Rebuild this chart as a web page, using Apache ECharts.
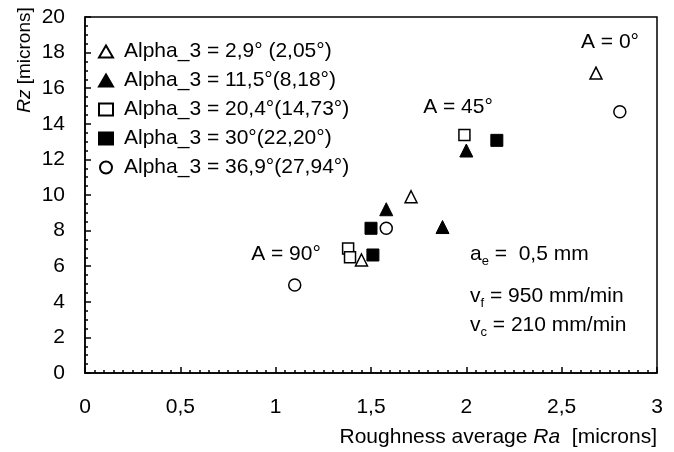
<!DOCTYPE html>
<html>
<head>
<meta charset="utf-8">
<script src="https://cdn.jsdelivr.net/npm/echarts@6/dist/echarts.min.js"></script>
<style>
  html, body { margin: 0; padding: 0; background: #fff; }
  #chart { width: 674px; height: 452px; }
</style>
</head>
<body>
<div id="chart"></div>
<script>
// Ra / Rz values per Alpha_3 setting (three tilt angles A = 0°, 45°, 90° each)
var seriesNames = [
  'Alpha_3 = 2,9° (2,05°)',
  'Alpha_3 = 11,5°(8,18°)',
  'Alpha_3 = 20,4°(14,73°)',
  'Alpha_3 = 30°(22,20°)',
  'Alpha_3 = 36,9°(27,94°)'
];
var raAlpha29  = [2.68, 1.71, 1.45];
var rzAlpha29  = [16.85, 9.9, 6.35];
var raAlpha115 = [2.00, 1.58, 1.875];
var rzAlpha115 = [12.5, 9.2, 8.2];
var raAlpha204 = [1.99, 1.38, 1.39];
var rzAlpha204 = [13.37, 7.0, 6.5];
var raAlpha30  = [2.16, 1.50, 1.51];
var rzAlpha30  = [13.07, 8.13, 6.63];
var raAlpha369 = [2.805, 1.58, 1.10];
var rzAlpha369 = [14.68, 8.13, 4.94];

var FONT = '"Liberation Sans", Arial, sans-serif';

function pairs(xs, ys) {
  return xs.map(function (x, i) { return [x, ys[i]]; });
}

var openStyle = { color: '#fff', borderColor: '#000', borderWidth: 1.5, opacity: 1 };
var fillStyle = { color: '#000', borderColor: '#000', borderWidth: 1, opacity: 1 };

var chart = echarts.init(document.getElementById('chart'));

var option = {
  animation: false,
  grid: {
    left: 85, right: 17, top: 17, bottom: 79,
    show: true, borderColor: '#000', borderWidth: 1.5
  },
  legend: {
    orient: 'vertical',
    left: 93,
    top: 36,
    itemGap: 8,
    itemWidth: 14,
    itemHeight: 12,
    textStyle: { fontFamily: FONT, fontSize: 21, color: '#000', padding: [0, 0, 0, 6] },
    data: seriesNames
  },
  xAxis: {
    type: 'value', min: 0, max: 3, interval: 0.5,
    axisLine: { show: true, lineStyle: { color: '#000', width: 1.5 } },
    axisTick: { show: true, inside: true, length: 6, lineStyle: { color: '#000', width: 1.5 } },
    minorTick: { show: true, splitNumber: 10, length: 3, lineStyle: { color: '#000', width: 1.5 } },
    splitLine: { show: false },
    axisLabel: {
      color: '#000', fontFamily: FONT, fontSize: 21, margin: 24,
      formatter: function (v) { return String(v).replace('.', ','); }
    }
  },
  yAxis: {
    type: 'value', min: 0, max: 20, interval: 2,
    axisLine: { show: true, lineStyle: { color: '#000', width: 1.5 } },
    axisTick: { show: true, inside: true, length: 6, lineStyle: { color: '#000', width: 1.5 } },
    minorTick: { show: true, splitNumber: 4, length: 3, lineStyle: { color: '#000', width: 1.5 } },
    splitLine: { show: false },
    axisLabel: { color: '#000', fontFamily: FONT, fontSize: 21, margin: 20 }
  },
  series: [
    { name: seriesNames[0], type: 'scatter', symbol: 'triangle', symbolSize: 12,
      itemStyle: openStyle, data: pairs(raAlpha29, rzAlpha29) },
    { name: seriesNames[1], type: 'scatter', symbol: 'triangle', symbolSize: 13,
      itemStyle: fillStyle, data: pairs(raAlpha115, rzAlpha115) },
    { name: seriesNames[2], type: 'scatter', symbol: 'rect', symbolSize: 11,
      itemStyle: openStyle, data: pairs(raAlpha204, rzAlpha204) },
    { name: seriesNames[3], type: 'scatter', symbol: 'rect', symbolSize: 12,
      itemStyle: fillStyle, data: pairs(raAlpha30, rzAlpha30) },
    { name: seriesNames[4], type: 'scatter', symbol: 'circle', symbolSize: 12,
      itemStyle: openStyle, data: pairs(raAlpha369, rzAlpha369) }
  ],
  graphic: [
    // axis titles
    { type: 'text', x: 25, y: 60, rotation: Math.PI / 2,
      style: { text: '{i|Rz} [microns]', font: '19px ' + FONT, fill: '#000',
        align: 'center', verticalAlign: 'middle',
        rich: { i: { fontStyle: 'italic', fontSize: 19, fontFamily: FONT } } } },
    { type: 'text', x: 657, y: 437,
      style: { text: 'Roughness average {i|Ra}  [microns]', font: '21px ' + FONT, fill: '#000',
        align: 'right', verticalAlign: 'middle',
        rich: { i: { fontStyle: 'italic', fontSize: 21, fontFamily: FONT } } } },
    // tilt-angle notes
    { type: 'text', x: 610, y: 42,
      style: { text: 'A = 0°', font: '21px ' + FONT, fill: '#000', align: 'center', verticalAlign: 'middle' } },
    { type: 'text', x: 458, y: 107,
      style: { text: 'A = 45°', font: '21px ' + FONT, fill: '#000', align: 'center', verticalAlign: 'middle' } },
    { type: 'text', x: 286, y: 254,
      style: { text: 'A = 90°', font: '21px ' + FONT, fill: '#000', align: 'center', verticalAlign: 'middle' } },
    // cutting parameters
    { type: 'text', x: 470, y: 254,
      style: { text: 'a{s|e} =  0,5 mm', font: '21px ' + FONT, fill: '#000', align: 'left', verticalAlign: 'middle',
        rich: { s: { fontSize: 13, fontFamily: FONT, padding: [14, 0, 0, 0] } } } },
    { type: 'text', x: 470, y: 296,
      style: { text: 'v{s|f} = 950 mm/min', font: '21px ' + FONT, fill: '#000', align: 'left', verticalAlign: 'middle',
        rich: { s: { fontSize: 13, fontFamily: FONT, padding: [14, 0, 0, 0] } } } },
    { type: 'text', x: 470, y: 325,
      style: { text: 'v{s|c} = 210 mm/min', font: '21px ' + FONT, fill: '#000', align: 'left', verticalAlign: 'middle',
        rich: { s: { fontSize: 13, fontFamily: FONT, padding: [14, 0, 0, 0] } } } }
  ]
};

chart.setOption(option);
</script>
</body>
</html>
